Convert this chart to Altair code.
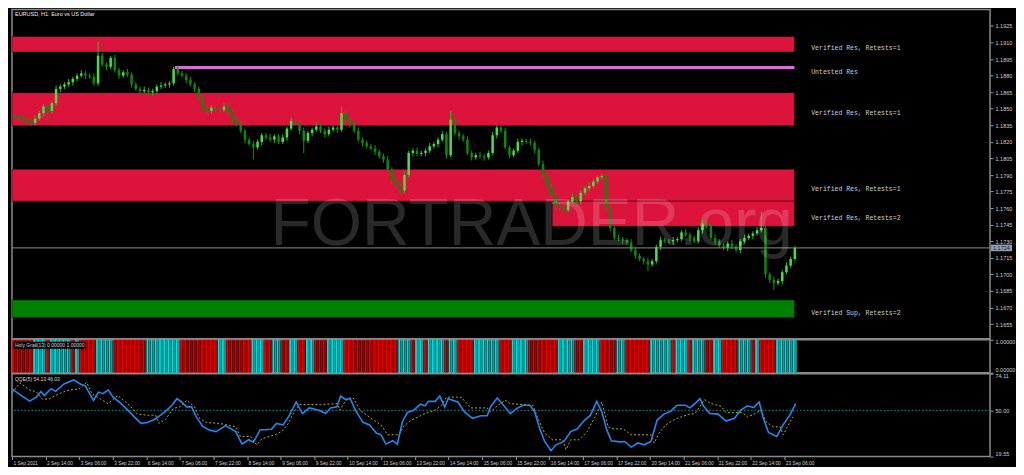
import altair as alt
import pandas as pd

# ---------------- data ----------------
BASE = 1.1700          # closes / wicks are in pips above this level
PIP = 0.0001

# one candle = 2 H1 bars
closes = [
    143, 142, 140, 139, 137, 141, 146, 152, 148, 155,
    168, 170, 172, 174, 177, 180, 182, 180, 179, 173,
    198, 190, 188, 196, 185, 180, 183, 181, 172, 168,
    166, 167, 165, 166, 170, 171, 172, 173, 186, 182,
    180, 176, 172, 168, 160, 150, 148, 151, 150, 149,
    152, 147, 140, 136, 130, 122, 118, 115, 120, 126,
    124, 122, 125, 120, 124, 132, 139, 137, 130, 121,
    128, 131, 134, 130, 127, 131, 133, 131, 146, 140,
    136, 130, 122, 119, 116, 114, 111, 107, 104, 95,
    85, 80, 76, 90, 110, 112, 109, 110, 112, 116,
    118, 122, 127, 108, 140, 128, 125, 122, 110, 106,
    108, 107, 106, 110, 126, 133, 130, 115, 108, 112,
    120, 121, 120, 119, 113, 100, 90, 80, 72, 62,
    60, 58, 66, 70, 66, 74, 78, 80, 84, 88,
    89, 60, 42, 33, 32, 31, 29, 22, 17, 14,
    12, 9, 12, 25, 31, 30, 30, 31, 32, 38,
    36, 33, 30, 40, 46, 44, 33, 30, 26, 24,
    28, 25, 22, 30, 33, 35, 37, 40, 42, 0,
    -5, -8, -6, 2, 8, 14, 24,
]
first_open = 144
up_wick = [
    2, 1, 2, 1, 2, 3, 2, 2, 3, 2,
    3, 2, 2, 3, 2, 2, 3, 2, 2, 3,
    13, 3, 2, 2, 3, 2, 2, 3, 2, 2,
    2, 3, 2, 2, 2, 3, 2, 2, 2, 3,
    2, 2, 3, 2, 2, 2, 3, 2, 2, 2,
    3, 2, 2, 2, 3, 2, 2, 3, 2, 2,
    2, 3, 2, 2, 3, 2, 3, 2, 2, 3,
    2, 2, 3, 2, 2, 3, 2, 2, 6, 3,
    2, 2, 3, 2, 2, 2, 3, 2, 2, 3,
    2, 3, 2, 3, 2, 2, 3, 2, 2, 3,
    2, 2, 3, 2, 8, 3, 2, 2, 3, 2,
    2, 3, 2, 2, 3, 2, 2, 3, 2, 2,
    3, 2, 2, 3, 2, 2, 3, 2, 2, 2,
    3, 2, 2, 3, 2, 2, 2, 3, 2, 2,
    2, 3, 2, 2, 3, 2, 2, 3, 2, 2,
    2, 3, 2, 2, 3, 2, 2, 3, 2, 2,
    3, 2, 2, 3, 3, 2, 2, 3, 2, 2,
    2, 3, 2, 2, 3, 2, 2, 3, 15, 3,
    2, 3, 2, 2, 3, 2, 2,
]
dn_wick = [
    2, 2, 1, 2, 3, 2, 2, 3, 9, 2,
    2, 3, 2, 2, 3, 2, 2, 3, 2, 2,
    2, 2, 3, 2, 2, 3, 2, 2, 3, 2,
    3, 2, 2, 3, 2, 2, 2, 3, 2, 2,
    2, 3, 2, 3, 2, 2, 3, 2, 2, 3,
    2, 2, 3, 2, 2, 3, 2, 11, 2, 3,
    2, 2, 3, 2, 2, 3, 2, 2, 3, 11,
    2, 3, 2, 2, 3, 2, 2, 3, 2, 2,
    3, 2, 2, 3, 2, 2, 3, 2, 3, 2,
    3, 2, 3, 2, 2, 3, 2, 2, 3, 2,
    2, 3, 2, 3, 2, 2, 3, 2, 2, 3,
    2, 2, 3, 2, 2, 3, 2, 2, 3, 2,
    2, 3, 2, 2, 3, 2, 2, 3, 2, 3,
    2, 3, 2, 2, 3, 2, 2, 3, 2, 2,
    2, 2, 3, 2, 2, 3, 2, 2, 3, 2,
    3, 6, 2, 2, 3, 2, 2, 3, 2, 2,
    2, 3, 2, 2, 3, 2, 2, 3, 2, 2,
    3, 2, 2, 3, 2, 2, 3, 2, 2, 3,
    3, 6, 2, 3, 2, 2, 2,
]

x_tick_labels = [
    "1 Sep 2021", "2 Sep 14:00", "3 Sep 06:00", "3 Sep 22:00", "6 Sep 14:00",
    "7 Sep 06:00", "7 Sep 22:00", "8 Sep 14:00", "9 Sep 06:00", "9 Sep 22:00",
    "10 Sep 14:00", "13 Sep 06:00", "13 Sep 22:00", "14 Sep 14:00", "15 Sep 06:00",
    "15 Sep 22:00", "16 Sep 14:00", "17 Sep 06:00", "17 Sep 22:00", "20 Sep 14:00",
    "21 Sep 06:00", "21 Sep 22:00", "22 Sep 14:00", "23 Sep 06:00",
]
x_tick_pos = [8 * k for k in range(len(x_tick_labels))]
price_ticks = [1.1655, 1.1670, 1.1685, 1.1700, 1.1715, 1.1730, 1.1745, 1.1760,
               1.1775, 1.1790, 1.1805, 1.1820, 1.1835, 1.1850, 1.1865, 1.1880,
               1.1895, 1.1910, 1.1925]
current_price = 1.1724

zone_labels = ["Verified Res, Retests=1", "Verified Res, Retests=1",
               "Verified Res, Retests=1", "Verified Res, Retests=2",
               "Verified Sup, Retests=2"]
zone_top = [1.19154, 1.18645, 1.17952, 1.17663, 1.16768]
zone_bot = [1.19013, 1.18347, 1.17663, 1.17435, 1.16610]
zone_start = [0, 0, 0, 128.7, 0]
zone_kind = ["res", "res", "res", "res", "sup"]
zone_end = 186.4
untested_label = "Untested Res"
untested_price = 1.18873
untested_start = 38.8

hg_signal = ["R", "C"] * 27
hg_length = [5, 3, 1, 5, 1, 1, 4, 4, 8, 8, 9, 2, 6, 3, 2, 2, 2, 2, 2, 2,
             3, 4, 13, 3, 1, 2, 1, 4, 1, 2, 4, 6, 3, 4, 7, 4, 2, 4, 4, 2,
             6, 5, 1, 3, 1, 3, 2, 2, 4, 3, 1, 1, 4, 5]
hg_ticks = [0, 1]

qqe_rsi_x = [0, 1.9, 4.2, 5.8, 6.9, 7.7, 9.3, 10.4, 12.4, 14.7,
             16.3, 17.5, 19.4, 20.6, 21.7, 22.9, 24.1, 26, 27.6, 29.5,
             30.7, 32.2, 33.8, 35.4, 36.9, 38.1, 39.3, 40.4, 41.6, 42.8,
             43.9, 45.5, 47, 48.6, 50.9, 53.3, 54.8, 56.4, 57.5, 59.1,
             61.8, 63, 64.6, 66.1, 67.7, 69.2, 70.8, 73.1, 74.7, 75.9,
             77.4, 78.3, 79.4, 80.6, 81.8, 83.6, 85.2, 86.8, 87.9, 89.1,
             90.7, 91.8, 93, 94.2, 95.7, 97.3, 98.4, 99.2, 100.8, 101.9,
             103.1, 103.9, 106.2, 107.8, 109.7, 111.7, 113.2, 114, 115.6, 117.1,
             118.7, 120.3, 121.8, 123.4, 124.5, 125.7, 126.9, 128.4, 129.6, 131.5,
             133.1, 134.7, 136.2, 137.8, 139.3, 140.5, 141.7, 142.8, 144.8, 146,
             147.5, 149.1, 150.6, 152.2, 153.7, 155.3, 156.9, 158.4, 160.4, 161.5,
             162.7, 163.9, 164.7, 166.2, 168.2, 170.1, 172.1, 173.6, 175.2, 176.7,
             178, 179, 180.2, 182.2, 183.7, 185.3, 186.7]
qqe_rsi_v = [64.2, 60.3, 56.1, 58.7, 62.4, 59.8, 64.2, 62.5, 67.4, 70.0,
             67.4, 66, 56.6, 62, 61, 63.5, 58.7, 54.4, 50.1, 44.7,
             41.4, 42, 43.8, 46.8, 50.1, 53.3, 57.7, 55.5, 52.3, 52.3,
             45.7, 39.2, 37.1, 36, 39.9, 36, 27.8, 30.6, 29, 37.1,
             37.5, 41.4, 40.4, 46.8, 55.5, 47.9, 51.6, 50.1, 47.9, 51.6,
             52.3, 59.4, 57.2, 57.6, 50.1, 42.1, 40.4, 35, 33.9, 27.8,
             30, 27.8, 42.5, 48.6, 50.1, 54, 53, 55.9, 55.9, 59.4,
             52.2, 57.6, 55.5, 49, 44.7, 46.4, 46.4, 52.2, 58.1, 53.3,
             47.9, 51.3, 53.3, 53.3, 49, 38.2, 29.5, 23.4, 27.3, 29.5,
             36, 37.8, 42.9, 46.8, 55.9, 49, 37.1, 30, 29.2, 29.5,
             25.8, 28.5, 27.3, 29.5, 43.6, 47.5, 49.4, 53.3, 53.3, 51.6,
             54.4, 57.7, 53, 47.9, 47.5, 42.9, 44.7, 50.1, 53, 51.8,
             55.5, 44.7, 35.5, 32.8, 40.4, 46.8, 54.4]
qqe_trail_x = [0, 1.9, 4.2, 5.8, 7.3, 8.9, 11.2, 13.6, 15.9, 17.8,
               19, 21, 22.9, 25.2, 27.6, 29.9, 32.2, 34.2, 35, 36.5,
               38.5, 40, 41.6, 43.5, 44.7, 46.3, 49.4, 53.3, 54.4, 56.8,
               58.3, 59.5, 62.6, 64.2, 65.7, 67.3, 68.5, 73.5, 77.4, 78.2,
               79, 80.1, 81.3, 82.9, 86, 87.9, 89.5, 92.2, 93.4, 95.3,
               98.4, 100.8, 102.3, 103.5, 107, 109.3, 113.2, 114, 115.6, 117.5,
               118.7, 124.1, 125.3, 126.9, 128.8, 131.2, 132, 133.1, 135.1, 137,
               138.9, 140.5, 142, 143.2, 145.6, 147.5, 152.2, 153, 154.1, 155.7,
               158, 161.2, 162.7, 165, 166.6, 168.9, 170.1, 174, 175.2, 176.7,
               178.3, 179.8, 181.4, 183, 183.7, 186]
qqe_trail_v = [61.6, 68.1, 63.4, 62.2, 57.2, 57.6, 61, 63.4, 64, 68.5,
               61, 57.6, 54.4, 59.8, 54.4, 47.5, 46.8, 46.8, 41.4, 43.8,
               51.3, 52.3, 56.6, 52.3, 44.7, 42, 41.4, 39.2, 32.8, 32.8,
               27.3, 31.2, 33.9, 36, 40.8, 49.4, 53.8, 53.8, 54.4, 50.1,
               54.4, 58.1, 58.1, 50.1, 43.8, 40.4, 33.9, 33.9, 39.9, 43.8,
               47.9, 50.1, 53.3, 58.7, 58.7, 51.6, 51.6, 49, 53, 56.6,
               54.4, 53.3, 44.7, 35, 30.6, 30.6, 24.1, 30.6, 30.6, 36,
               45.7, 55.5, 39.2, 37.8, 37.8, 33.9, 33.9, 28.5, 35, 40.4,
               44.3, 47.3, 47.9, 57, 54.4, 52.7, 48.5, 48.5, 45.7, 47.3,
               50.1, 42, 39.2, 39.2, 33.9, 45.7]
qqe_level = [50.0]
qqe_ticks = [19.55, 50.00, 74.11]

# ---------------- tables ----------------
rows = []
prev = first_open
for i, c in enumerate(closes):
    o = prev
    rows.append(dict(
        xl=i + 0.2, xr=i + 0.8, xm=i + 0.5,
        open=BASE + o * PIP, close=BASE + c * PIP,
        high=BASE + (max(o, c) + up_wick[i]) * PIP,
        low=BASE + (min(o, c) - dn_wick[i]) * PIP,
        dir="up" if c >= o else "down"))
    prev = c
candles = pd.DataFrame(rows)

zones = pd.DataFrame(dict(x0=zone_start, x1=[zone_end] * 5, top=zone_top,
                          bot=zone_bot, kind=zone_kind, label=zone_labels))
zones["mid"] = (zones["top"] + zones["bot"]) / 2
zone_text = pd.concat([
    zones[["label", "mid"]],
    pd.DataFrame(dict(label=[untested_label], mid=[untested_price]))])
zone_text["lx"] = 190.4
untested = pd.DataFrame(dict(x0=[untested_start], x1=[zone_end], p=[untested_price]))
cur = pd.DataFrame(dict(p=[current_price], lo=[current_price - 0.0003],
                        hi=[current_price + 0.0003], t=[f"{current_price:.4f}"]))
wm = pd.DataFrame(dict(x=[123.8], p=[1.17268], t=["FORTRADER.org"]))

hg_rows = []
pos = 0
for s, n in zip(hg_signal, hg_length):
    for k in range(n):
        hg_rows.append(dict(a=pos + 0.04, b=pos + 0.47, key=s + "a", lo=0, hi=1))
        hg_rows.append(dict(a=pos + 0.53, b=pos + 0.96, key=s + "b", lo=0, hi=1))
        pos += 1
hg = pd.DataFrame(hg_rows)

rsi = pd.DataFrame(dict(x=qqe_rsi_x, v=qqe_rsi_v))
trail = pd.DataFrame(dict(x=qqe_trail_x, v=qqe_trail_v))
lvl = pd.DataFrame(dict(v=qqe_level))

# ---------------- chart ----------------
W = 980
H_MAIN, H_HG, H_QQE = 330, 33, 83
xs = alt.Scale(domain=[0, 233], nice=False, zero=False, padding=0)
ys = alt.Scale(domain=[1.16417, 1.19399], nice=False, zero=False, padding=0)

y_axis = alt.Axis(orient="right", values=price_ticks, format=".4f",
                  labelFontSize=5.5, tickSize=3, domain=False,
                  labelOverlap=False, labelFlush=False)


def PY(field):
    return alt.Y(field, scale=ys, axis=y_axis, title=None)


def PX(field):
    return alt.X(field, scale=xs, axis=None, title=None)


zone_colors = {"res": "#dc143c", "sup": "#008000"}
zone_layers = []
for kind, col in zone_colors.items():
    zone_layers.append(alt.Chart(zones[zones["kind"] == kind]).mark_rect(
        color=col, stroke="#000000", strokeWidth=0.6, strokeOpacity=0.7).encode(
        x=PX("x0:Q"), x2="x1:Q", y=PY("top:Q"), y2="bot:Q"))

untested_line = alt.Chart(untested).mark_rule(color="#d86fd8", strokeWidth=3).encode(
    x=PX("x0:Q"), x2="x1:Q", y=PY("p:Q"))

candle_layers = []
for d, wick_c, body_c in [("down", "#0c9a0c", "#0a8a0a"), ("up", "#22c022", "#46e046")]:
    sub = candles[candles["dir"] == d]
    candle_layers.append(alt.Chart(sub).mark_rule(strokeWidth=1, color=wick_c).encode(
        x=PX("xm:Q"), y=PY("low:Q"), y2="high:Q"))
    candle_layers.append(alt.Chart(sub).mark_rect(color=body_c).encode(
        x=PX("xl:Q"), x2="xr:Q", y=PY("open:Q"), y2="close:Q"))

cur_line = alt.Chart(cur).mark_rule(color="#8a8a8a", strokeWidth=1).encode(y=PY("p:Q"))

watermark = alt.Chart(wm).mark_text(
    font="Liberation Sans", fontSize=66, color="#ffffff", opacity=0.16,
    align="center", baseline="alphabetic").encode(
    x=PX("x:Q"), y=PY("p:Q"), text="t:N")

zlabels = alt.Chart(zone_text).mark_text(
    font="Liberation Mono", fontSize=6.5, color="#cfcfcf", align="left",
    baseline="middle", dy=4).encode(
    x=PX("lx:Q"), y=PY("mid:Q"), text="label:N")

title = alt.Chart(pd.DataFrame(dict(t=["EURUSD, H1:  Euro vs US Dollar"]))).mark_text(
    font="Liberation Sans", fontSize=5.5, color="#f0f0f0", align="left",
    baseline="middle").encode(x=alt.value(3), y=alt.value(5), text="t:N")

price_box = alt.Chart(cur).mark_rect(color="#8e9fb5").encode(
    x=alt.value(W + 1), x2=alt.value(W + 22), y=PY("hi:Q"), y2="lo:Q")
price_txt = alt.Chart(cur).mark_text(
    font="Liberation Sans", fontSize=5.5, color="#1a1a2a", align="left",
    baseline="middle").encode(x=alt.value(W + 3), y=PY("p:Q"), text="t:N")

main = alt.layer(*zone_layers, untested_line, *candle_layers, cur_line, watermark,
                 zlabels, title, price_box, price_txt).properties(
    width=W, height=H_MAIN)

# Holy Grail panel
hg_scale = alt.Scale(domain=[0, 1], nice=False, zero=False, padding=0)
hg_axis = alt.Axis(orient="right", values=hg_ticks, format=".5f",
                   labelFontSize=5.5, tickSize=3, domain=False,
                   labelOverlap=False, labelFlush=True)
hg_colors = {"Ra": "#e60000", "Rb": "#a80000", "Ca": "#00e0e0", "Cb": "#00a6a6"}
hg_layers = []
for key, col in hg_colors.items():
    hg_layers.append(alt.Chart(hg[hg["key"] == key]).mark_rect(color=col).encode(
        x=PX("a:Q"), x2="b:Q",
        y=alt.Y("lo:Q", scale=hg_scale, title=None, axis=hg_axis), y2="hi:Q"))
hg_label = "Holy Grail(13) 0.00000 1.00000"
hg_bg = alt.Chart(pd.DataFrame(dict(t=[hg_label]))).mark_rect(
    color="#000000").encode(x=alt.value(1), x2=alt.value(73),
                            y=alt.value(2), y2=alt.value(9))
hg_txt = alt.Chart(pd.DataFrame(dict(t=[hg_label]))).mark_text(
    font="Liberation Sans", fontSize=5, color="#d8d8d8", align="left",
    baseline="middle").encode(x=alt.value(3), y=alt.value(5.5), text="t:N")
hg_panel = alt.layer(*hg_layers, hg_bg, hg_txt).properties(width=W, height=H_HG)

# QQE panel
qs = alt.Scale(domain=[19.55, 74.11], nice=False, zero=False, padding=0)
q_axis = alt.Axis(orient="right", values=qqe_ticks, format=".2f",
                  labelFontSize=5.5, tickSize=3, domain=False,
                  labelOverlap=False, labelFlush=True)
x_axis = alt.Axis(values=x_tick_pos, labelAlign="left", labelOffset=1,
                  labelFontSize=4.8, tickSize=3, domain=False, labelPadding=1,
                  labelOverlap=False,
                  labelExpr="[" + ",".join(f"'{s}'" for s in x_tick_labels)
                  + "][round(datum.value/8)]")


def QY(field):
    return alt.Y(field, scale=qs, title=None, axis=q_axis)


def QX(field):
    return alt.X(field, scale=xs, axis=x_axis, title=None)


lvl_rule = alt.Chart(lvl).mark_rule(color="#0a9a9a", strokeWidth=1,
                                    strokeDash=[1.5, 2]).encode(y=QY("v:Q"))
trail_line = alt.Chart(trail).mark_line(color="#b5b000", strokeWidth=1,
                                        strokeDash=[2, 2]).encode(
    x=QX("x:Q"), y=QY("v:Q"))
rsi_line = alt.Chart(rsi).mark_line(color="#1e88f0", strokeWidth=1.6).encode(
    x=QX("x:Q"), y=QY("v:Q"))
qqe_txt = alt.Chart(pd.DataFrame(dict(t=["QQE(5) 54.13 46.03"]))).mark_text(
    font="Liberation Sans", fontSize=5, color="#d8d8d8", align="left",
    baseline="middle").encode(x=alt.value(3), y=alt.value(5), text="t:N")
qqe_panel = alt.layer(lvl_rule, trail_line, rsi_line, qqe_txt).properties(
    width=W, height=H_QQE)

chart = alt.vconcat(main, hg_panel, qqe_panel, spacing=1, bounds="flush").properties(
    padding={"left": 0, "top": 0, "right": 0, "bottom": 0}
).configure(background="#000000").configure_view(
    stroke="#8a8a8a", strokeWidth=1.5, fill="#000000"
).configure_axis(
    labelFont="Liberation Sans", labelColor="#d0d0d0", tickColor="#9a9a9a",
    grid=False, labelOverlap=False
)

chart.save("out.html", embed_options={"renderer": "svg", "actions": False})
